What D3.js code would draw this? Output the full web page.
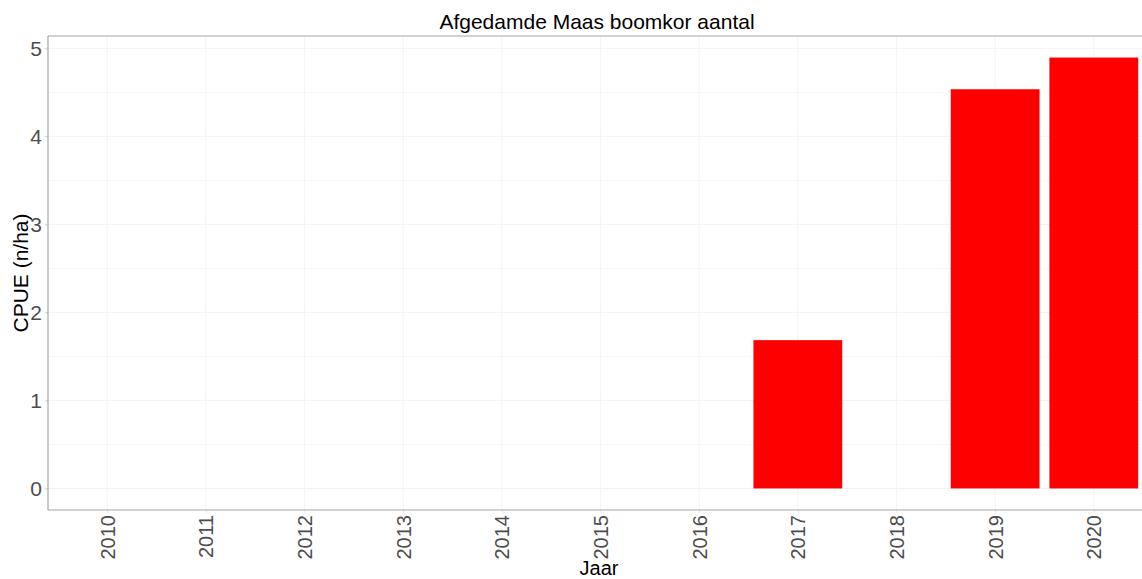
<!DOCTYPE html>
<html>
<head>
<meta charset="utf-8">
<script src="https://cdn.jsdelivr.net/npm/d3@7"></script>
<style>
  body { margin: 0; background: #fff; }
  svg { display: block; font-family: "Liberation Sans", Arial, sans-serif; }
</style>
</head>
<body>
<div id="chart"></div>
<script>
'use strict'

const years = ['2010', '2011', '2012', '2013', '2014', '2015', '2016', '2017', '2018', '2019', '2020'];
const cpue = [0, 0, 0, 0, 0, 0, 0, 1.685, 0, 4.535, 4.895];
const yTicks = [0, 1, 2, 3, 4, 5];
const yMinor = [0.5, 1.5, 2.5, 3.5, 4.5];

const width = 1142;
const height = 579;
const margin = {top: 36, right: -11, bottom: 69, left: 48};

let svg = (
  d3.select('#chart')
    .append('svg')
    .attr('width', width)
    .attr('height', height));

let x0 = margin.left;
let x1 = width - margin.right;
let yTop = margin.top;
let yBot = height - margin.bottom;

// ggplot-like discrete expansion of 0.6 step on each side
let n = years.length;
let step = (x1 - x0) / (n - 1 + 1.2);
let x = d3.scalePoint()
  .domain(years)
  .range([x0 + 0.6 * step, x1 - 0.6 * step]);

let maxVal = d3.max(cpue);
let pad = maxVal * 0.05;
let y = d3.scaleLinear()
  .domain([-pad, maxVal + pad])
  .range([yBot, yTop]);

let grid = svg.append('g');

// minor horizontal grid
grid.selectAll('line.minor')
  .data(yMinor)
  .enter()
    .append('line')
      .attr('x1', x0).attr('x2', x1)
      .attr('y1', (d) => y(d)).attr('y2', (d) => y(d))
      .attr('stroke', '#f7f7f7')
      .attr('stroke-width', 1);

// major horizontal grid
grid.selectAll('line.major')
  .data(yTicks)
  .enter()
    .append('line')
      .attr('x1', x0).attr('x2', x1)
      .attr('y1', (d) => y(d)).attr('y2', (d) => y(d))
      .attr('stroke', '#f2f2f2')
      .attr('stroke-width', 1);

// vertical grid
grid.selectAll('line.vert')
  .data(years)
  .enter()
    .append('line')
      .attr('x1', (d) => x(d)).attr('x2', (d) => x(d))
      .attr('y1', yTop).attr('y2', yBot)
      .attr('stroke', '#f4f4f4')
      .attr('stroke-width', 1);

// bars
let barW = step * 0.9;
svg.selectAll('rect.bar')
  .data(years.map((yr, i) => ({year: yr, value: cpue[i]})))
  .enter()
    .append('rect')
      .attr('class', 'bar')
      .attr('x', (d) => x(d.year) - barW / 2)
      .attr('width', barW)
      .attr('y', (d) => y(Math.max(d.value, 0)))
      .attr('height', (d) => Math.abs(y(0) - y(d.value)))
      .attr('fill', '#ff0000');

// axes
let yAxis = svg.append('g')
  .attr('transform', `translate(${x0},0)`)
  .call(d3.axisLeft(y).tickValues(yTicks).tickSize(3).tickPadding(3).tickFormat(d3.format('d')));
yAxis.select('.domain').remove();
yAxis.selectAll('.tick line').attr('stroke', '#cccccc');
yAxis.selectAll('.tick text')
  .attr('fill', '#4d4d4d')
  .style('font-size', '21px');

let xAxis = svg.append('g')
  .attr('transform', `translate(0,${yBot})`)
  .call(d3.axisBottom(x).tickSize(3).tickPadding(4));
xAxis.select('.domain').remove();
xAxis.selectAll('.tick line').attr('stroke', '#e6e6e6');
xAxis.selectAll('.tick text')
  .attr('fill', '#4d4d4d')
  .style('font-size', '20px')
  .attr('transform', 'rotate(-90)')
  .attr('text-anchor', 'end')
  .attr('x', -5)
  .attr('y', 0)
  .attr('dy', '0.35em');

// panel border (left, top, bottom)
let border = svg.append('g')
  .attr('stroke', '#a6a6a6')
  .attr('stroke-width', 1.2);
border.append('line').attr('x1', x0).attr('x2', x0).attr('y1', yTop).attr('y2', yBot);
border.append('line').attr('x1', x0).attr('x2', x1).attr('y1', yTop).attr('y2', yTop);
border.append('line').attr('x1', x0).attr('x2', x1).attr('y1', yBot).attr('y2', yBot);

// titles
svg.append('text')
  .attr('x', 597)
  .attr('y', 29)
  .attr('text-anchor', 'middle')
  .style('font-size', '21px')
  .attr('fill', '#000')
  .text('Afgedamde Maas boomkor aantal');

svg.append('text')
  .attr('transform', `translate(28,${(yTop + yBot) / 2}) rotate(-90)`)
  .attr('text-anchor', 'middle')
  .style('font-size', '21px')
  .attr('fill', '#000')
  .text('CPUE (n/ha)');

svg.append('text')
  .attr('x', 599)
  .attr('y', 575)
  .attr('text-anchor', 'middle')
  .style('font-size', '20px')
  .attr('fill', '#000')
  .text('Jaar');
</script>
</body>
</html>
